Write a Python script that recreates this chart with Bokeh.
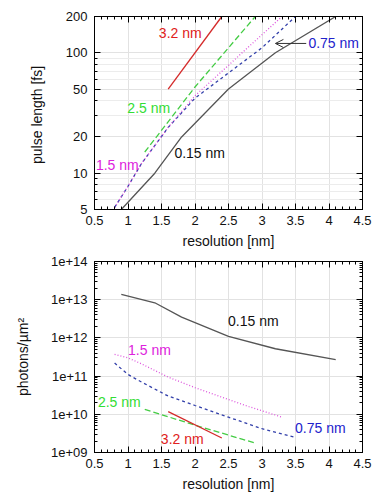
from bokeh.plotting import figure
from bokeh.layouts import column
from bokeh.models import (ColumnDataSource, FixedTicker, LinearAxis, LogAxis,
                          Arrow, OpenHead)
from bokeh.core.properties import value
from bokeh.embed import file_html
from bokeh.resources import INLINE

FONT = "Liberation Sans"

# ---------------- data ----------------
series_names = ["0.15 nm", "0.75 nm", "1.5 nm", "2.5 nm", "3.2 nm"]

res_015 = [0.9, 1.4, 1.8, 2.5, 3.2, 4.1]
pulse_015 = [5.0, 10.0, 20.0, 50.0, 100.0, 200.0]
phot_015 = [1.37e13, 8.3e12, 3.5e12, 1.1e12, 5.2e11, 2.7e11]

res_075 = [0.8, 1.0, 1.2, 1.6, 2.0, 2.5, 3.0, 3.5]
pulse_075 = [5.2, 7.8, 12.0, 24.0, 42.0, 68.0, 110.0, 200.0]
phot_075 = [2.2e11, 1.1e11, 7.0e10, 3.0e10, 1.7e10, 8.4e9, 4.2e9, 2.5e9]

res_15 = [0.8, 1.0, 1.2, 1.6, 2.0, 2.4, 2.8, 3.3]
pulse_15 = [5.2, 7.8, 12.0, 24.0, 44.0, 70.0, 112.0, 200.0]
phot_15 = [3.7e11, 3.0e11, 2.1e11, 9.4e10, 5.0e10, 2.8e10, 1.6e10, 8.4e9]

res_25 = [1.25, 2.0, 2.9]
pulse_25 = [15.0, 52.0, 200.0]
phot_25 = [1.34e10, 5.2e9, 1.76e9]

res_32 = [1.6, 2.4]
pulse_32 = [50.0, 200.0]
phot_32 = [1.18e10, 2.4e9]

x_ticks = [0.5, 1.0, 1.5, 2.0, 2.5, 3.0, 3.5, 4.0, 4.5]
x_tick_labels = ["0.5", "1", "1.5", "2", "2.5", "3", "3.5", "4", "4.5"]
y1_ticks = [5, 10, 20, 50, 100, 200]
y1_tick_labels = ["5", "10", "20", "50", "100", "200"]
y2_ticks = [1e9, 1e10, 1e11, 1e12, 1e13, 1e14]
y2_tick_labels = ["1e+09", "1e+10", "1e+11", "1e+12", "1e+13", "1e+14"]

x_minor = [0.5 + 0.1 * i for i in range(41)]
y1_minor = [m * 10 ** e for e in range(0, 3) for m in range(2, 10)]
y2_minor = [m * 10 ** e for e in range(9, 14) for m in range(2, 10)]

# label positions (data coords)
lab1_x = [2.07, 4.07, 0.84, 1.31, 1.78]
lab1_y = [14.6, 119.5, 11.8, 34.5, 145.0]
lab2_x = [2.87, 3.87, 1.32, 0.87, 1.81]
lab2_y = [2.85e12, 4.5e9, 4.7e11, 2.04e10, 2.3e9]
label_colors = ["#111111", "#2222cc", "#dd22dd", "#33dd33", "#e02020"]

# styles
line_colors = ["#555555", "#3340aa", "#dd55dd", "#44cc44", "#d42a2a"]
line_dashes = ["solid", "3 3", "1 2", "6 3", "solid"]

series1 = [(res_015, pulse_015), (res_075, pulse_075), (res_15, pulse_15),
           (res_25, pulse_25), (res_32, pulse_32)]
series2 = [(res_015, phot_015), (res_075, phot_075), (res_15, phot_15),
           (res_25, phot_25), (res_32, phot_32)]


def style(p, y_ticks, y_labels, y_minor, ylabel, minor_grid):
    xt = FixedTicker(ticks=x_ticks, minor_ticks=x_minor)
    yt = FixedTicker(ticks=y_ticks, minor_ticks=y_minor)
    p.xaxis.ticker = xt
    p.yaxis.ticker = yt
    p.xaxis.major_label_overrides = {float(t): l for t, l in zip(x_ticks, x_tick_labels)}
    p.yaxis.major_label_overrides = {float(t): l for t, l in zip(y_ticks, y_labels)}
    p.xaxis.axis_label = "resolution [nm]"
    p.yaxis.axis_label = ylabel
    for ax in (p.xaxis[0], p.yaxis[0]):
        ax.major_tick_in = 6
        ax.major_tick_out = 0
        ax.minor_tick_in = 3
        ax.minor_tick_out = 0
        ax.axis_line_color = "black"
        ax.major_tick_line_color = "black"
        ax.minor_tick_line_color = "black"
        ax.major_label_text_font = FONT
        ax.major_label_text_font_size = "13px"
        ax.major_label_text_color = "#111111"
        ax.axis_label_text_font = FONT
        ax.axis_label_text_font_size = "14px"
        ax.axis_label_text_font_style = "normal"
        ax.axis_label_text_color = "#111111"
    p.yaxis.major_label_standoff = 7
    # mirrored ticks (labels invisible)
    top = LinearAxis(ticker=xt, major_label_text_font_size="1px", major_label_text_color=None,
                     major_label_standoff=0, major_tick_in=6, major_tick_out=0,
                     minor_tick_in=3, minor_tick_out=0)
    right = LogAxis(ticker=yt, major_label_text_font_size="1px", major_label_text_color=None,
                    major_label_standoff=0, major_tick_in=6, major_tick_out=0,
                    minor_tick_in=3, minor_tick_out=0)
    p.add_layout(top, "above")
    p.add_layout(right, "right")
    p.outline_line_color = "black"
    p.outline_line_width = 1
    p.xgrid.grid_line_color = "#e2e2e2"
    p.ygrid.grid_line_color = "#e2e2e2"
    if minor_grid:
        p.ygrid.minor_grid_line_color = "#ececec"
    p.background_fill_color = "white"
    p.border_fill_color = "white"


p1 = figure(width=374, height=251, x_range=(0.5, 4.5), y_range=(5, 200),
            y_axis_type="log", output_backend="svg", toolbar_location=None,
            min_border_left=94, min_border_right=12, min_border_top=16, min_border_bottom=42)
style(p1, y1_ticks, y1_tick_labels, y1_minor, "pulse length  [fs]", True)
p1.xaxis.major_label_standoff = 6
p1.xaxis[0].axis_label_standoff = 3
p1.yaxis[0].axis_label_standoff = 18

for (xs, ys), c, d in zip(series1, line_colors, line_dashes):
    p1.line(xs, ys, line_color=c, line_dash=d, line_width=1.3)

src1 = ColumnDataSource(dict(x=lab1_x, y=lab1_y, t=series_names, c=label_colors))
p1.text(x="x", y="y", text="t", text_color="c", source=src1, text_font=value(FONT),
        text_font_size="14px", text_align="center", text_baseline="middle")
p1.add_layout(Arrow(end=OpenHead(size=8, line_color="#333333", line_width=1),
                    x_start=3.66, y_start=119.5, x_end=3.2, y_end=119.5,
                    line_color="#333333", line_width=1))

p2 = figure(width=374, height=244, x_range=(0.5, 4.5), y_range=(1e9, 1e14),
            y_axis_type="log", output_backend="svg", toolbar_location=None,
            min_border_left=94, min_border_right=12, min_border_top=10, min_border_bottom=43)
style(p2, y2_ticks, y2_tick_labels, y2_minor, "photons/µm²", False)
p2.xaxis.major_label_standoff = 6
p2.xaxis[0].axis_label_standoff = 4
p2.yaxis[0].axis_label_standoff = 17

for (xs, ys), c, d in zip(series2, line_colors, line_dashes):
    p2.line(xs, ys, line_color=c, line_dash=d, line_width=1.3)

src2 = ColumnDataSource(dict(x=lab2_x, y=lab2_y, t=series_names, c=label_colors))
p2.text(x="x", y="y", text="t", text_color="c", source=src2, text_font=value(FONT),
        text_font_size="14px", text_align="center", text_baseline="middle")

layout = column(p1, p2, spacing=0)
open("out.html", "w").write(file_html(layout, INLINE))
